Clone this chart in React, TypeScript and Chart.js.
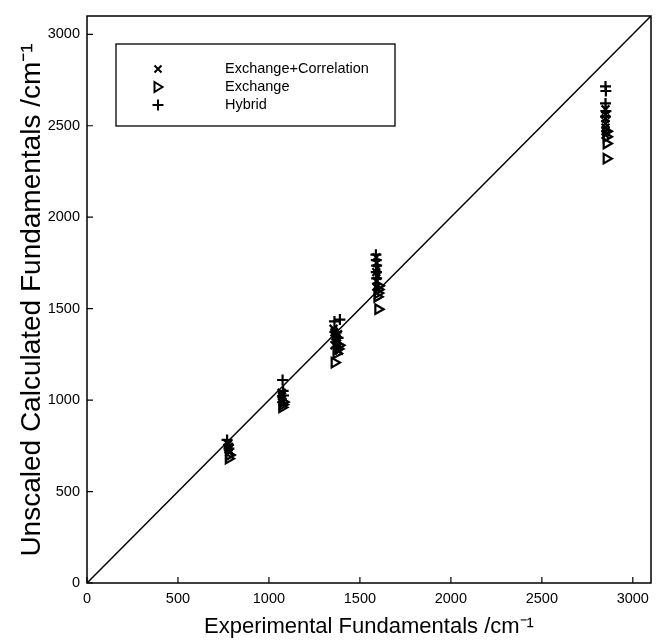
import React, { useEffect, useRef } from 'react';
import { Chart, registerables } from 'chart.js';
Chart.register(...registerables);

const AXIS_MIN = 0;
const AXIS_MAX = 3100;
const xTickValues = [0, 500, 1000, 1500, 2000, 2500, 3000];
const yTickValues = [0, 500, 1000, 1500, 2000, 2500, 3000];

const seriesLabels = ['Exchange+Correlation', 'Exchange', 'Hybrid'];

const xcX = [775, 780, 778, 782, 776, 1070, 1072, 1068, 1075, 1070, 1355, 1360, 1365, 1370, 1375, 1380, 1385, 1360, 1370, 1380, 1590, 1592, 1594, 1590, 1595, 1592, 1590, 2850, 2850, 2850, 2850, 2850, 2850, 2850];
const xcY = [760, 745, 730, 715, 740, 1040, 1020, 1005, 990, 1030, 1390, 1370, 1350, 1330, 1310, 1290, 1270, 1300, 1340, 1360, 1780, 1750, 1720, 1700, 1680, 1650, 1620, 2590, 2560, 2540, 2510, 2490, 2470, 2450];

const exX = [778, 782, 1072, 1075, 1078, 1360, 1370, 1380, 1385, 1600, 1595, 1598, 1600, 1602, 2855, 2855, 2855, 2855];
const exY = [680, 700, 960, 975, 990, 1205, 1255, 1280, 1300, 1497, 1565, 1585, 1605, 1625, 2320, 2403, 2440, 2470];

const hyX = [770, 778, 780, 1075, 1078, 1080, 1360, 1390, 1370, 1380, 1588, 1590, 1592, 1590, 1592, 2850, 2852, 2850, 2852, 2850];
const hyY = [782, 755, 735, 1110, 1050, 1025, 1430, 1440, 1370, 1340, 1795, 1765, 1735, 1700, 1665, 2715, 2690, 2622, 2580, 2550];

const xTitle = 'Experimental Fundamentals /cm\u207B\u00B9';
const yTitle = 'Unscaled Calculated Fundamentals /cm\u207B\u00B9';

const FONT = "'Liberation Sans', Arial, Helvetica, sans-serif";

function pts(xs: number[], ys: number[]) {
  return xs.map((x, i) => ({ x, y: ys[i] }));
}

const framePlugin = {
  id: 'frame',
  afterDraw(chart: any) {
    const { ctx, chartArea, scales } = chart;
    ctx.save();
    ctx.strokeStyle = '#000';
    ctx.lineWidth = 1.5;
    ctx.strokeRect(chartArea.left, chartArea.top, chartArea.right - chartArea.left, chartArea.bottom - chartArea.top);
    ctx.lineWidth = 1.2;
    ctx.beginPath();
    xTickValues.forEach((v) => {
      const x = scales.x.getPixelForValue(v);
      ctx.moveTo(x, chartArea.bottom);
      ctx.lineTo(x, chartArea.bottom - 6);
    });
    yTickValues.forEach((v) => {
      const y = scales.y.getPixelForValue(v);
      ctx.moveTo(chartArea.left, y);
      ctx.lineTo(chartArea.left + 6, y);
    });
    ctx.stroke();

    // y axis title (drawn manually)
    ctx.save();
    ctx.translate(32, 300);
    ctx.rotate(-Math.PI / 2);
    ctx.font = `28px ${FONT}`;
    ctx.fillStyle = '#000';
    ctx.textAlign = 'center';
    ctx.textBaseline = 'middle';
    ctx.fillText(yTitle, 0, 0);
    ctx.restore();

    // legend box
    const bx = chartArea.left + 29;
    const by = chartArea.top + 28;
    const bw = 279;
    const bh = 82;
    ctx.fillStyle = '#fff';
    ctx.fillRect(bx, by, bw, bh);
    ctx.lineWidth = 1.3;
    ctx.strokeRect(bx, by, bw, bh);
    const mx = bx + 42;
    const tx = bx + 109;
    const rows = [by + 25, by + 43, by + 61];
    ctx.font = `14.5px ${FONT}`;
    ctx.fillStyle = '#000';
    ctx.textBaseline = 'middle';
    ctx.textAlign = 'left';
    seriesLabels.forEach((lab, i) => {
      ctx.fillText(lab, tx, rows[i]);
    });
    ctx.lineWidth = 2;
    let y = rows[0];
    ctx.beginPath();
    ctx.moveTo(mx - 3.5, y - 3.5); ctx.lineTo(mx + 3.5, y + 3.5);
    ctx.moveTo(mx - 3.5, y + 3.5); ctx.lineTo(mx + 3.5, y - 3.5);
    ctx.stroke();
    y = rows[1];
    ctx.beginPath();
    ctx.moveTo(mx - 3.5, y - 5); ctx.lineTo(mx + 4.5, y); ctx.lineTo(mx - 3.5, y + 5); ctx.closePath();
    ctx.stroke();
    y = rows[2];
    ctx.beginPath();
    ctx.moveTo(mx - 5.5, y); ctx.lineTo(mx + 5.5, y);
    ctx.moveTo(mx, y - 5.5); ctx.lineTo(mx, y + 5.5);
    ctx.stroke();
    ctx.restore();
  },
};

export default function App() {
  const ref = useRef<HTMLCanvasElement>(null);
  useEffect(() => {
    if (!ref.current) return;
    const chart = new Chart(ref.current, {
      type: 'scatter',
      data: {
        datasets: [
          {
            label: seriesLabels[0],
            data: pts(xcX, xcY),
            pointStyle: 'crossRot',
            pointRadius: 5.5,
            borderColor: '#000',
            backgroundColor: '#000',
            pointBorderWidth: 2.2,
          },
          {
            label: seriesLabels[1],
            data: pts(exX, exY),
            pointStyle: 'triangle',
            pointRotation: 90,
            pointRadius: 5.5,
            borderColor: '#000',
            backgroundColor: 'rgba(255,255,255,0)',
            pointBorderWidth: 2.2,
          },
          {
            label: seriesLabels[2],
            data: pts(hyX, hyY),
            pointStyle: 'cross',
            pointRadius: 5.5,
            borderColor: '#000',
            backgroundColor: '#000',
            pointBorderWidth: 2.2,
          },
          {
            type: 'line',
            label: 'y=x',
            data: [{ x: AXIS_MIN, y: AXIS_MIN }, { x: AXIS_MAX, y: AXIS_MAX }],
            borderColor: '#000',
            borderWidth: 1.5,
            pointRadius: 0,
            showLine: true,
          } as any,
        ],
      },
      options: {
        responsive: false,
        animation: false,
        layout: { padding: { left: 0, top: 16, right: 8, bottom: 0 } },
        plugins: { legend: { display: false }, tooltip: { enabled: false } },
        scales: {
          x: {
            type: 'linear',
            min: AXIS_MIN,
            max: AXIS_MAX,
            afterBuildTicks: (s: any) => { s.ticks = xTickValues.map((v) => ({ value: v })); },
            afterFit: (s: any) => { s.height = 59; },
            grid: { display: false, drawTicks: false },
            border: { display: false },
            ticks: { color: '#000', font: { family: FONT, size: 14.5 }, padding: 7, maxRotation: 0, autoSkip: false, callback: (v: any) => String(v) },
            title: { display: true, text: xTitle, color: '#000', font: { family: FONT, size: 22 }, padding: { top: 0, bottom: 2 } },
          },
          y: {
            type: 'linear',
            min: AXIS_MIN,
            max: AXIS_MAX,
            afterBuildTicks: (s: any) => { s.ticks = yTickValues.map((v) => ({ value: v })); },
            afterFit: (s: any) => { s.width = 87; },
            grid: { display: false, drawTicks: false },
            border: { display: false },
            ticks: { color: '#000', font: { family: FONT, size: 14.5 }, padding: 7, autoSkip: false, callback: (v: any) => String(v) },
            title: { display: false },
          },
        },
      },
      plugins: [framePlugin],
    } as any);
    return () => chart.destroy();
  }, []);
  return (
    <div style={{ position: 'fixed', left: 0, top: 0, width: 659, height: 642, background: '#fff' }}>
      <canvas ref={ref} width={659} height={642} />
    </div>
  );
}
